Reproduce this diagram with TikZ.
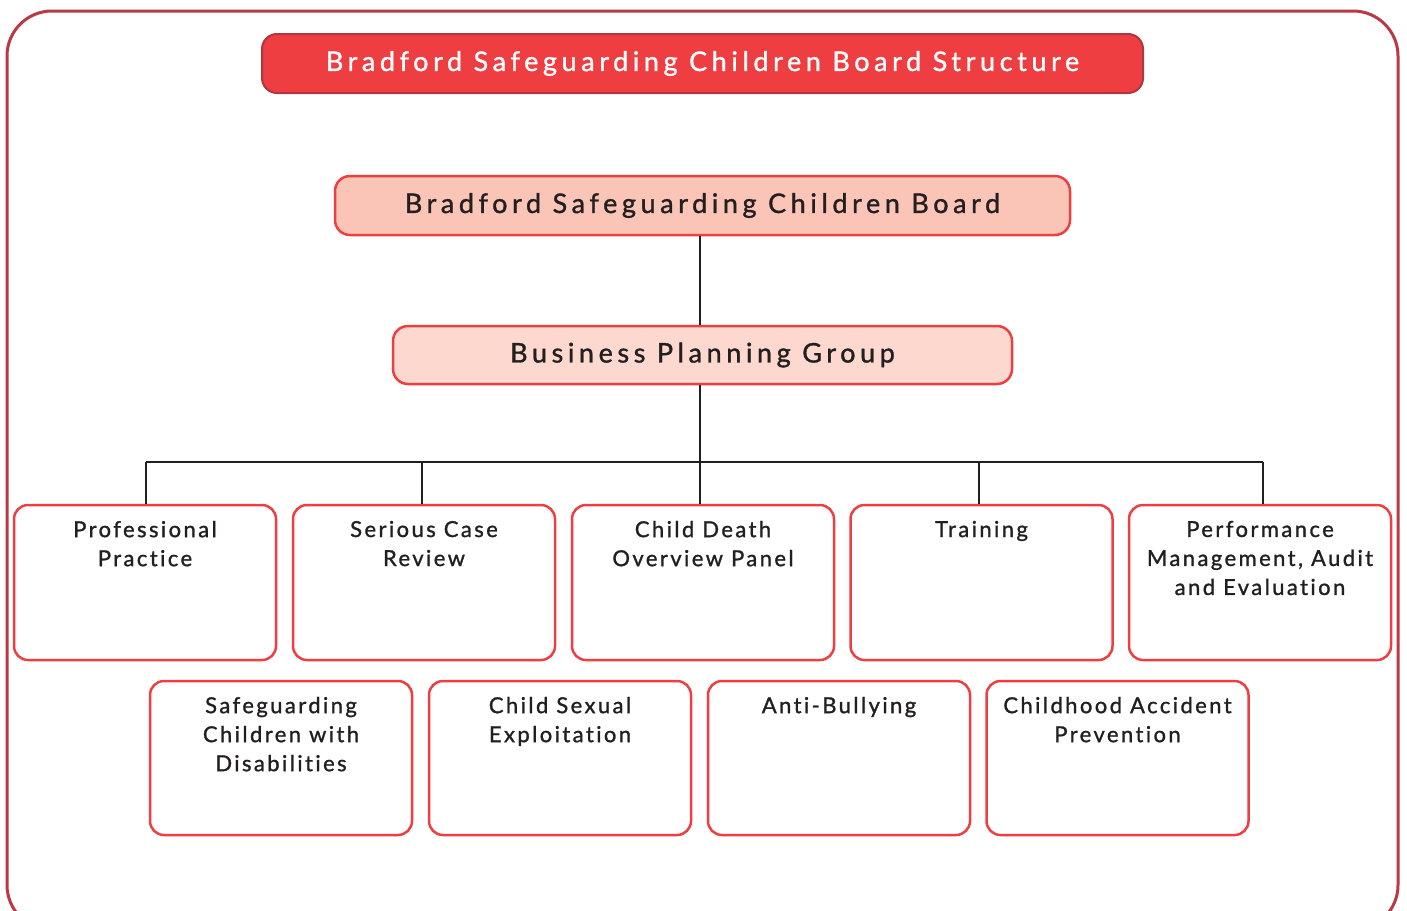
\documentclass[tikz,border=0pt]{standalone}
\usepackage{fontspec}
\setmainfont{Lato}
\newfontfamily\headfont[LetterSpace=17, FakeBold=1.2, Ligatures=CommonOff]{Lato}
\newfontfamily\boxfont[LetterSpace=11, FakeBold=1.2, Ligatures=CommonOff]{Lato}
\definecolor{frameRed}{HTML}{B93A45}
\definecolor{titleRed}{HTML}{EF3E42}
\definecolor{titleEdge}{HTML}{B3353E}
\definecolor{boardFill}{HTML}{FAC4B6}
\definecolor{groupFill}{HTML}{FCD8CE}
\definecolor{ink}{HTML}{231F20}
\begin{document}
\begin{tikzpicture}[x=1pt,y=-1pt,
  frame/.style={draw=frameRed, line width=3pt, rounded corners=45pt},
  titlebox/.style={draw=titleEdge, fill=titleRed, line width=2pt, rounded corners=15pt,
    minimum width=881pt, minimum height=59pt, inner sep=0pt,
    text=white, font=\headfont\fontsize{27}{32}\selectfont},
  levelbox/.style={draw=titleRed, line width=2.5pt, rounded corners=15pt,
    minimum height=58pt, inner sep=0pt, text=ink,
    font=\headfont\fontsize{27}{32}\selectfont},
  groupbox/.style={draw=titleRed, fill=white, line width=2.5pt, rounded corners=14pt,
    minimum width=262pt, minimum height=155pt, inner sep=0pt},
  boxtext/.style={anchor=north, inner sep=0pt, align=center, text=ink,
    font=\boxfont\fontsize{22}{29}\selectfont},
  link/.style={draw=ink, line width=2.2pt}
]
\useasboundingbox (0,0) rectangle (1407,910);
\begin{scope}
  \clip (0,0) rectangle (1407,910);
  \draw[frame] (7,11) rectangle (1398,930);
\end{scope}

% heading and upper levels
\node[titlebox] (title) at (702.5,63.5) {Bradford Safeguarding Children Board Structure};
\node[levelbox, fill=boardFill, minimum width=735pt, minimum height=59pt] (board) at (702.5,205.5)
  {Bradford Safeguarding Children Board};
\node[levelbox, fill=groupFill, minimum width=619pt] (bpg) at (702.5,355)
  {Business Planning Group};

% first row of sub-groups
\node[groupbox] (pp)  at (145,582.5)  {};
\node[groupbox] (scr) at (424,582.5)  {};
\node[groupbox] (cdo) at (703,582.5)  {};
\node[groupbox] (trn) at (981.5,582.5) {};
\node[groupbox] (pme) at (1260,582.5) {};

% second row of sub-groups
\node[groupbox, minimum height=154pt] (scd) at (281,758)    {};
\node[groupbox, minimum height=154pt] (cse) at (560,758)    {};
\node[groupbox, minimum height=154pt] (ab)  at (839,758)    {};
\node[groupbox, minimum height=154pt] (cap) at (1117.5,758) {};

\node[boxtext] (pp-t)  at ([yshift=-17pt]pp.north)  {Professional\\Practice};
\node[boxtext] (scr-t) at ([yshift=-17pt]scr.north) {Serious Case\\Review};
\node[boxtext] (cdo-t) at ([yshift=-17pt]cdo.north) {Child Death\\Overview Panel};
\node[boxtext] (trn-t) at ([yshift=-17pt]trn.north) {Training};
\node[boxtext] (pme-t) at ([yshift=-17pt]pme.north) {Performance\\Management, Audit\\and Evaluation};
\node[boxtext] (scd-t) at ([yshift=-17pt]scd.north) {Safeguarding\\Children with\\Disabilities};
\node[boxtext] (cse-t) at ([yshift=-17pt]cse.north) {Child Sexual\\Exploitation};
\node[boxtext] (ab-t)  at ([yshift=-17pt]ab.north)  {Anti-Bullying};
\node[boxtext] (cap-t) at ([yshift=-17pt]cap.north) {Childhood Accident\\Prevention};

% connectors
\coordinate (bus) at (700,462);
\coordinate (j1) at (146,462);
\coordinate (j2) at (422,462);
\coordinate (j4) at (979,462);
\coordinate (j5) at (1263,462);
\draw[link] (board.south -| bus) -- (bpg.north -| bus);
\draw[link] (bpg.south -| bus) -- (bus);
\draw[link] (j1) -- (j5);
\draw[link] (j1) -- (j1 |- pp.north);
\draw[link] (j2) -- (j2 |- scr.north);
\draw[link] (bus) -- (bus |- cdo.north);
\draw[link] (j4) -- (j4 |- trn.north);
\draw[link] (j5) -- (j5 |- pme.north);
\end{tikzpicture}
\end{document}
